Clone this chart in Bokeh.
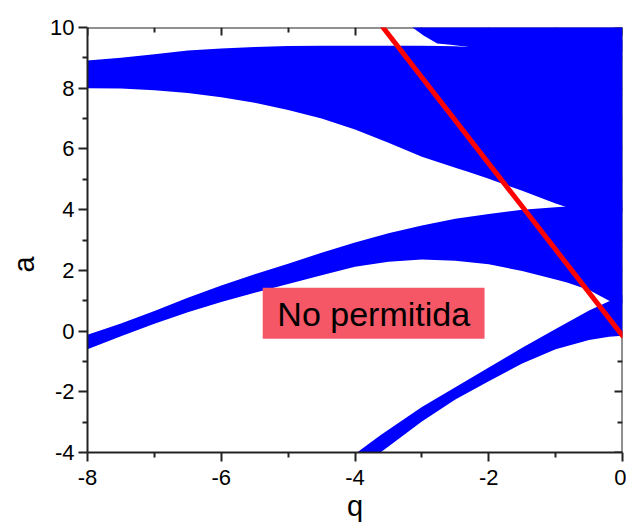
import math
from bokeh.plotting import figure
from bokeh.models import (Range1d, FixedTicker, LinearAxis, BoxAnnotation, Label, Title,
                          CustomJSTickFormatter)
from bokeh.embed import file_html
from bokeh.resources import INLINE

# ---- data ----
x_ticks = [-8, -6, -4, -2, 0]
x_minor = [-7, -5, -3, -1]
y_ticks = [-4, -2, 0, 2, 4, 6, 8, 10]
y_minor = [-3, -1, 1, 3, 5, 7, 9]

# Band A (lowest stable band)
qA = [-3.97, -3.62, -3.5, -3.0, -2.5, -2.0, -1.5, -1.0, -0.5, -0.2, 0.0]
A_low = [-4.6, -4.0, -3.80, -2.98, -2.25, -1.65, -1.07, -0.60, -0.29, -0.19, -0.15]
A_up = [-4.0, -3.43, -3.25, -2.50, -1.85, -1.20, -0.55, 0.07, 0.68, 0.98, 1.2]

# Band B
qB = [-8, -7.5, -7, -6.5, -6, -5.5, -5, -4.5, -4, -3.5, -3, -2.5, -2, -1.5, -1.0, -0.83, -0.5, -0.2, 0]
B_low = [-0.60, -0.17, 0.24, 0.62, 0.96, 1.26, 1.55, 1.84, 2.12, 2.28, 2.36, 2.32, 2.20, 1.98, 1.70, 1.60, 1.35, 1.0, 0.9]
B_up = [-0.12, 0.25, 0.66, 1.10, 1.50, 1.87, 2.22, 2.58, 2.92, 3.22, 3.48, 3.70, 3.86, 4.00, 4.08, 4.10, 4.3, 4.3, 4.3]

# Band C
qC = [-8, -7.5, -7, -6.5, -6, -5.5, -5, -4.5, -4, -3.5, -3, -2.5, -2.3, -2.0, -1.5, -1.0, -0.83, -0.5, 0]
C_low = [8.00, 7.99, 7.93, 7.84, 7.70, 7.52, 7.28, 7.00, 6.64, 6.20, 5.74, 5.38, 5.24, 5.02, 4.62, 4.20, 4.08, 3.9, 3.9]
C_up = [8.91, 9.00, 9.12, 9.24, 9.31, 9.36, 9.39, 9.40, 9.40, 9.40, 9.40, 9.38, 9.36, 9.6, 9.6, 9.6, 9.6, 9.6, 9.6]

# Band D (top right)
qD = [-3.14, -2.97, -2.77, -2.57, -2.3, -2.0, 0.0]
D_low = [10.0, 9.73, 9.47, 9.43, 9.36, 9.2, 9.2]
D_up = [10.2, 10.2, 10.2, 10.2, 10.2, 10.2, 10.2]

# red line
line_q = [-3.58, 0.0]
line_a = [10.0, -0.15]

FONT = "Liberation Sans"
BLUE = "#0000FF"
AXC = "#222222"

p = figure(width=626, height=527, x_range=Range1d(-8, 0), y_range=Range1d(-4, 10),
           output_backend="svg", toolbar_location=None,
           min_border_left=87, min_border_right=4, min_border_top=27, min_border_bottom=75)
p.outline_line_color = None
p.background_fill_color = "white"
p.border_fill_color = "white"
p.xgrid.visible = False
p.ygrid.visible = False

for q, lo, up in [(qA, A_low, A_up), (qB, B_low, B_up), (qC, C_low, C_up), (qD, D_low, D_up)]:
    p.varea(x=q, y1=lo, y2=up, fill_color=BLUE, fill_alpha=1.0)

p.line(x=line_q, y=line_a, line_color="#FF0000", line_width=5, line_cap="round")

# axes
plain = CustomJSTickFormatter(code="return tick.toString();")
xa = p.xaxis[0]
ya = p.yaxis[0]
xa.ticker = FixedTicker(ticks=x_ticks, minor_ticks=x_minor)
ya.ticker = FixedTicker(ticks=y_ticks, minor_ticks=y_minor)
for ax in (xa, ya):
    ax.formatter = plain
    ax.axis_line_color = AXC
    ax.axis_line_width = 2
    ax.major_tick_line_color = AXC
    ax.minor_tick_line_color = AXC
    ax.major_tick_line_width = 2
    ax.minor_tick_line_width = 2
    ax.major_tick_in = 0
    ax.major_tick_out = 9
    ax.minor_tick_in = 0
    ax.minor_tick_out = 5
    ax.major_label_text_font = FONT
    ax.major_label_text_font_size = "22px"
    ax.major_label_text_color = "black"
    ax.major_label_standoff = 4
xa.major_label_standoff = 8
xa.axis_label = "q"
xa.axis_label_text_font = FONT
xa.axis_label_text_font_size = "29px"
xa.axis_label_text_font_style = "normal"
xa.axis_label_text_color = "black"
xa.axis_label_standoff = 2

for loc, tk, mn in (("above", x_ticks, x_minor), ("right", y_ticks, y_minor)):
    ax = LinearAxis(ticker=FixedTicker(ticks=tk, minor_ticks=mn),
                    formatter=CustomJSTickFormatter(code="return '';"))
    ax.axis_line_color = AXC
    ax.axis_line_width = 2
    ax.major_tick_line_color = AXC
    ax.minor_tick_line_color = AXC
    ax.major_tick_line_width = 2
    ax.minor_tick_line_width = 2
    ax.major_tick_in = 8
    ax.major_tick_out = 0
    ax.minor_tick_in = 5
    ax.minor_tick_out = 0
    ax.major_label_text_font_size = "1px"
    ax.major_label_text_color = None
    ax.major_label_standoff = 0
    ax.level = "underlay"
    p.add_layout(ax, loc)

# y axis label, slightly below the frame centre as in the reference
p.add_layout(Title(text="a", align="left", offset=180, vertical_align="top", text_font=FONT,
                   text_font_size="29px", text_font_style="normal",
                   text_color="black", standoff=12), "left")

# "No permitida" box
p.add_layout(BoxAnnotation(left=-5.38, right=-2.063, bottom=-0.254, top=1.427,
                           fill_color="#F55766", fill_alpha=1.0, line_color=None))
p.add_layout(Label(x=-3.72, y=0.56, text="No permitida", text_align="center",
                   text_baseline="middle", text_font=FONT, text_font_size="34px",
                   text_color="black"))

open("out.html", "w").write(file_html(p, INLINE))
